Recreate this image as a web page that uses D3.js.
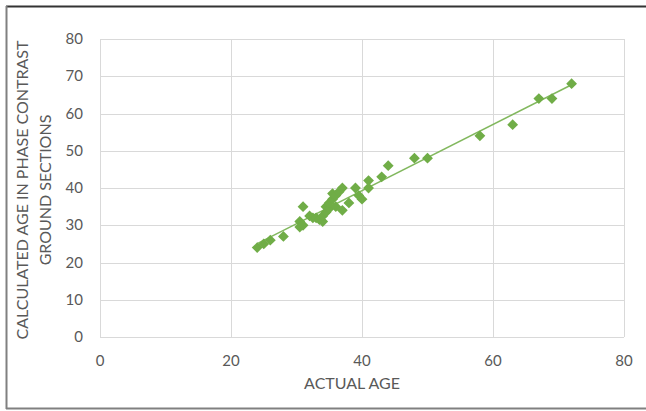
<!DOCTYPE html>
<html>
<head>
<meta charset="utf-8">
<script src="https://cdnjs.cloudflare.com/ajax/libs/d3/7.8.5/d3.min.js"></script>
<style>
  body { margin: 0; background: #fff; }
  svg { display: block; }
  text { font-family: Lato, "Noto Sans", sans-serif; fill: #595959; }
</style>
</head>
<body>
<div id="chart"></div>
<script>
// values
var actualAge = [24, 25, 26, 28, 30.5, 30.5, 31, 31, 32, 32.5, 33, 33.5, 34, 34, 34.5, 34.5,
                 35, 35, 35.5, 35.5, 36, 36, 36.5, 37, 37, 38, 39, 39.5, 40, 41, 41, 43,
                 44, 48, 50, 58, 63, 67, 69, 72];
var calcAge   = [24, 25, 26, 27, 31, 29.5, 35, 30, 32.5, 32, 32, 31.5, 31, 32.5, 33.5, 35,
                 34.5, 36, 37, 38.5, 35, 38, 39, 40, 34, 36, 40, 38, 37, 42, 40, 43,
                 46, 48, 48, 54, 57, 64, 64, 68];
var xTicks = [0, 20, 40, 60, 80];
var yTicks = [0, 10, 20, 30, 40, 50, 60, 70, 80];

var W = 646, H = 411;
var svg = d3.select("#chart").append("svg").attr("width", W).attr("height", H);

svg.append("rect").attr("width", W).attr("height", H).attr("fill", "#fff");

// frame around the figure
svg.append("line").attr("x1", 6).attr("x2", W).attr("y1", 6.5).attr("y2", 6.5)
    .attr("stroke", "#333").attr("stroke-width", 2);
svg.append("line").attr("x1", 6.5).attr("x2", 6.5).attr("y1", 6).attr("y2", 409)
    .attr("stroke", "#808080").attr("stroke-width", 2);
svg.append("line").attr("x1", 6).attr("x2", W).attr("y1", 408.5).attr("y2", 408.5)
    .attr("stroke", "#808080").attr("stroke-width", 2);

var x = d3.scaleLinear().domain([0, 80]).range([100, 624]);
var y = d3.scaleLinear().domain([0, 80]).range([337, 39]);

// gridlines
svg.append("g").selectAll("line").data(xTicks).enter().append("line")
    .attr("x1", function(d){ return Math.round(x(d)) + 0.5; })
    .attr("x2", function(d){ return Math.round(x(d)) + 0.5; })
    .attr("y1", y(80)).attr("y2", y(0))
    .attr("stroke", "#d9d9d9").attr("stroke-width", 1);
svg.append("g").selectAll("line").data(yTicks).enter().append("line")
    .attr("y1", function(d){ return Math.round(y(d)) + 0.5; })
    .attr("y2", function(d){ return Math.round(y(d)) + 0.5; })
    .attr("x1", x(0)).attr("x2", x(80))
    .attr("stroke", "#d9d9d9").attr("stroke-width", 1);

// tick labels
svg.append("g").selectAll("text").data(xTicks).enter().append("text")
    .attr("x", function(d){ return x(d); })
    .attr("y", 366)
    .attr("text-anchor", "middle")
    .attr("font-size", 15)
    .text(function(d){ return d; });
svg.append("g").selectAll("text").data(yTicks).enter().append("text")
    .attr("x", 83)
    .attr("y", function(d){ return y(d) + 5; })
    .attr("text-anchor", "end")
    .attr("font-size", 15)
    .text(function(d){ return d; });

// trendline (least squares over the data)
var n = actualAge.length;
var mx = d3.mean(actualAge), my = d3.mean(calcAge);
var sxy = 0, sxx = 0;
for (var i = 0; i < n; i++) {
    sxy += (actualAge[i] - mx) * (calcAge[i] - my);
    sxx += (actualAge[i] - mx) * (actualAge[i] - mx);
}
var slope = sxy / sxx, icpt = my - slope * mx;
var ext = d3.extent(actualAge);
svg.append("line")
    .attr("x1", x(ext[0])).attr("y1", y(icpt + slope * ext[0]))
    .attr("x2", x(ext[1])).attr("y2", y(icpt + slope * ext[1]))
    .attr("stroke", "#82b85e").attr("stroke-width", 1.5);

// points
var diamond = d3.symbol().type(d3.symbolDiamond2).size(75);
svg.append("g").selectAll("path").data(actualAge).enter().append("path")
    .attr("d", diamond)
    .attr("transform", function(d, i){ return "translate(" + x(d) + "," + y(calcAge[i]) + ")"; })
    .attr("fill", "#70ad47");

// axis titles
svg.append("text")
    .attr("x", 352).attr("y", 389)
    .attr("text-anchor", "middle")
    .attr("font-size", 16)
    .text("ACTUAL AGE");
var yt = svg.append("text")
    .attr("transform", "translate(0,190) rotate(-90)")
    .attr("text-anchor", "middle")
    .attr("font-size", 16);
yt.append("tspan").attr("x", 0).attr("y", 28).text("CALCULATED AGE IN PHASE CONTRAST");
yt.append("tspan").attr("x", 0).attr("y", 51).text("GROUND SECTIONS");
</script>
</body>
</html>
